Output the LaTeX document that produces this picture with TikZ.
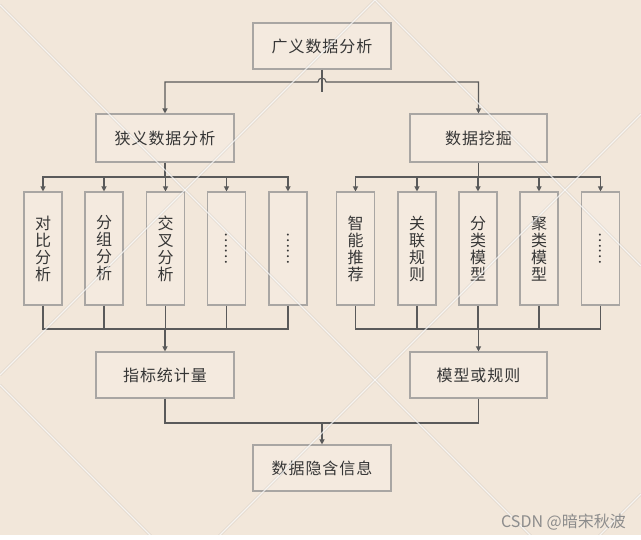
\documentclass[tikz,border=0pt]{standalone}
\usepackage{fontspec}
\setmainfont{Noto Sans CJK SC}
\usetikzlibrary{arrows.meta,calc}
\definecolor{bg}{HTML}{F2E7DA}
\definecolor{boxfill}{HTML}{F4EADF}
\definecolor{boxline}{HTML}{A9A6A3}
\definecolor{conn}{HTML}{5A5A5A}
\definecolor{txt}{HTML}{363636}
\tikzset{
  hbox/.style={draw=boxline, line width=1.1pt, fill=boxfill, minimum width=138pt, minimum height=46pt, inner sep=0pt, text=txt, font=\fontsize{16}{17}\selectfont\addfontfeature{LetterSpace=6}},
  vbox/.style={draw=boxline, line width=1.1pt, fill=boxfill, minimum width=38pt, minimum height=113pt, inner sep=0pt, text=txt, align=center, font=\fontsize{16}{17}\selectfont},
  dots/.style={rotate=-90, text=txt, font=\fontsize{15}{17}\selectfont, inner sep=0pt},
  wire/.style={draw=conn, line width=1.1pt},
  arr/.style={wire, -{Triangle[width=5pt,length=5pt]}},
  darr/.style={wire, {Triangle[width=5pt,length=5pt]}-{Triangle[width=5pt,length=5pt]}},
  wmo/.style={line width=2.6pt, draw=black, opacity=0.07},
  wmi/.style={line width=1.3pt, draw=white, opacity=0.75},
}
\begin{document}
\begin{tikzpicture}[x=1pt,y=-1pt]
\fill[bg] (0,0) rectangle (641,540);
\fill[white] (0,535) rectangle (641,540);
\useasboundingbox (0,0) rectangle (641,540);

% boxes
\node[hbox] (top) at (322,46) {广义数据分析};
\node[hbox, minimum height=48pt] (nar) at (165,138) {狭义数据分析};
\node[hbox, minimum width=137pt, minimum height=48pt] (dm) at (478.5,138) {数据挖掘};
\node[hbox] (idx) at (165,375) {指标统计量};
\node[hbox, minimum width=137pt] (mdl) at (478.5,375) {模型或规则};
\node[hbox] (info) at (322,468) {数据隐含信息};

\node[vbox] (l1) at (43,248.5) {对\\比\\分\\析};
\node[vbox] (l2) at (104,248.5) {分\\组\\分\\析};
\node[vbox] (l3) at (165.5,248.5) {交\\叉\\分\\析};
\node[vbox] (l4) at (226.5,248.5) {};
\node[vbox] (l5) at (288,248.5) {};
\node[dots] (d1) at (l4.center) {……};
\node[dots] (d2) at (l5.center) {……};

\node[vbox] (r1) at (355.5,248.5) {智\\能\\推\\荐};
\node[vbox] (r2) at (417,248.5) {关\\联\\规\\则};
\node[vbox] (r3) at (478,248.5) {分\\类\\模\\型};
\node[vbox] (r4) at (539,248.5) {聚\\类\\模\\型};
\node[vbox] (r5) at (600.5,248.5) {};
\node[dots] (d3) at (r5.center) {……};

% top connectors
\coordinate (j0) at (322,82);
\draw[wire] (top.south) -- ($(top.south)+(0,22)$);
\draw[darr] (nar.north) |- ($(j0)+(-4,0)$) arc (180:360:4) -| (dm.north);

% sub trees
\coordinate (sl) at (165,177);
\coordinate (sr) at (478.5,177);
\draw[wire] (nar.south) -- (sl);
\draw[wire] (dm.south) -- (sr);
\foreach \b in {l1,l2,l3,l4,l5} { \draw[arr] (sl) -| (\b.north); }
\foreach \b in {r1,r2,r3,r4,r5} { \draw[arr] (sr) -| (\b.north); }

\coordinate (ul) at (165,329);
\coordinate (ur) at (478.5,329);
\foreach \b in {l1,l2,l3,l4,l5} { \draw[wire] (\b.south) |- (ul); }
\foreach \b in {r1,r2,r3,r4,r5} { \draw[wire] (\b.south) |- (ur); }
\draw[arr] (ul) -- (idx.north);
\draw[arr] (ur) -- (mdl.north);

\coordinate (m2) at (322,423);
\draw[wire] (idx.south) |- (m2);
\draw[wire] (mdl.south) |- (m2);
\draw[arr] (m2) -- (info.north);

% watermark
\begin{scope}
\clip (0,0) rectangle (641,535);
\foreach \s in {wmo,wmi} {
  \draw[\s] (0,5) -- (535,540);
  \draw[\s] (375,0) -- (641,266);
  \draw[\s] (0,385) -- (155,540);
  \draw[\s] (375,0) -- (0,375);
  \draw[\s] (641,114) -- (215,540);
  \draw[\s] (641,494) -- (595,540);
}
\end{scope}
\node[text=black!45, font=\fontsize{16}{17}\selectfont, anchor=east, inner sep=0pt] (wm) at (626,522) {CSDN @暗宋秋波};
\end{tikzpicture}
\end{document}
